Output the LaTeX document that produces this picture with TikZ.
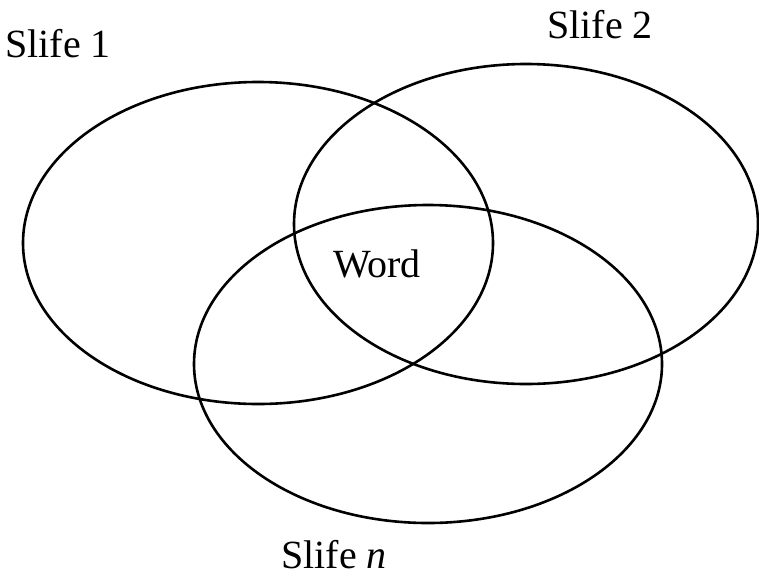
\documentclass[tikz,border=0pt]{standalone}
\usepackage{fontspec}
\setmainfont{Liberation Serif}
\begin{document}
\begin{tikzpicture}[x=1pt,y=-1pt,
  set/.style={draw=black,line width=2.6pt},
  lbl/.style={font=\fontsize{40}{48}\selectfont,anchor=base,inner sep=0pt}]
\useasboundingbox (0,0) rectangle (759,576);
\draw[set] (258,243) ellipse [x radius=235, y radius=161];
\draw[set] (526,224) ellipse [x radius=232, y radius=160];
\draw[set] (428,364) ellipse [x radius=234, y radius=159];
\node[lbl] (s1) at (58,57) {Slife 1};
\node[lbl] (s2) at (600,38) {Slife 2};
\node[lbl] (sn) at (334,568) {Slife \textit{n}};
\node[lbl] (w) at (377,277) {Word};
\end{tikzpicture}
\end{document}
